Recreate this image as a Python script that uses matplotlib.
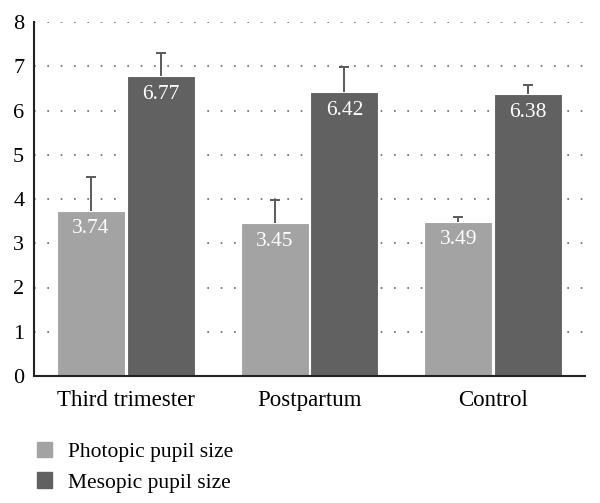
import matplotlib
matplotlib.use("Agg")
import matplotlib.pyplot as plt
import numpy as np
from matplotlib.patches import Patch

categories = ["Third trimester", "Postpartum", "Control"]
photopic = [3.74, 3.45, 3.49]
mesopic = [6.77, 6.42, 6.38]
photopic_err = [0.76, 0.53, 0.10]
mesopic_err = [0.53, 0.56, 0.20]
series_names = ["Photopic pupil size", "Mesopic pupil size"]
yticks = [0, 1, 2, 3, 4, 5, 6, 7, 8]

plt.rcParams['font.family'] = ['Liberation Serif', 'DejaVu Serif']

light = "#a3a3a3"
dark = "#616161"
ecol = "#5a5a5a"

fig = plt.figure(figsize=(6.0, 5.03), dpi=100)
ax = fig.add_axes([34/600, 1-376/503, 551/600, 354/503])

x = np.arange(len(categories))
w = 0.37
xp = x - w/2 - 0.005
xm = x + w/2 + 0.005
for xs, vals, errs, col in [(xp, photopic, photopic_err, light), (xm, mesopic, mesopic_err, dark)]:
    ax.bar(xs, vals, w, color=col, edgecolor="white", linewidth=0.8, zorder=2)
    tops = np.array(vals) + np.array(errs)
    ax.vlines(xs, vals, tops, color=ecol, linewidth=1.4, zorder=3)
    ax.plot(xs, tops, linestyle="none", marker="_", markersize=7, markeredgewidth=1.4, color=ecol, zorder=3)
    for xi, v in zip(xs, vals):
        ax.text(xi, v - 0.2, f"{v:.2f}", ha="center", va="top", color="white", fontsize=15.5, zorder=4)

ax.set_xlim(-0.5, 2.5)
ax.set_ylim(0, 8)
ax.set_yticks(yticks)
ax.set_xticks(x)
ax.set_xticklabels(categories)
ax.tick_params(axis="y", length=0, labelsize=16, pad=7)
ax.tick_params(axis="x", length=0, labelsize=16.5, pad=10)
ax.yaxis.grid(True, linestyle=(0, (1, 7)), color="#666666", linewidth=1.2, zorder=0)
ax.set_axisbelow(True)
for s in ["top", "right"]:
    ax.spines[s].set_visible(False)
ax.spines["left"].set_linewidth(1.5)
ax.spines["bottom"].set_linewidth(1.5)
ax.spines["left"].set_color("#222222")
ax.spines["bottom"].set_color("#222222")

handles = [Patch(color=light), Patch(color=dark)]
fig.legend(handles, series_names, loc="upper left", bbox_to_anchor=(28/600, 1-433/503),
           frameon=False, fontsize=15.5, handlelength=0.7, handleheight=0.7,
           handletextpad=0.75, labelspacing=0.5, borderaxespad=0, borderpad=0.4)

fig.savefig("out.png", dpi=100)
